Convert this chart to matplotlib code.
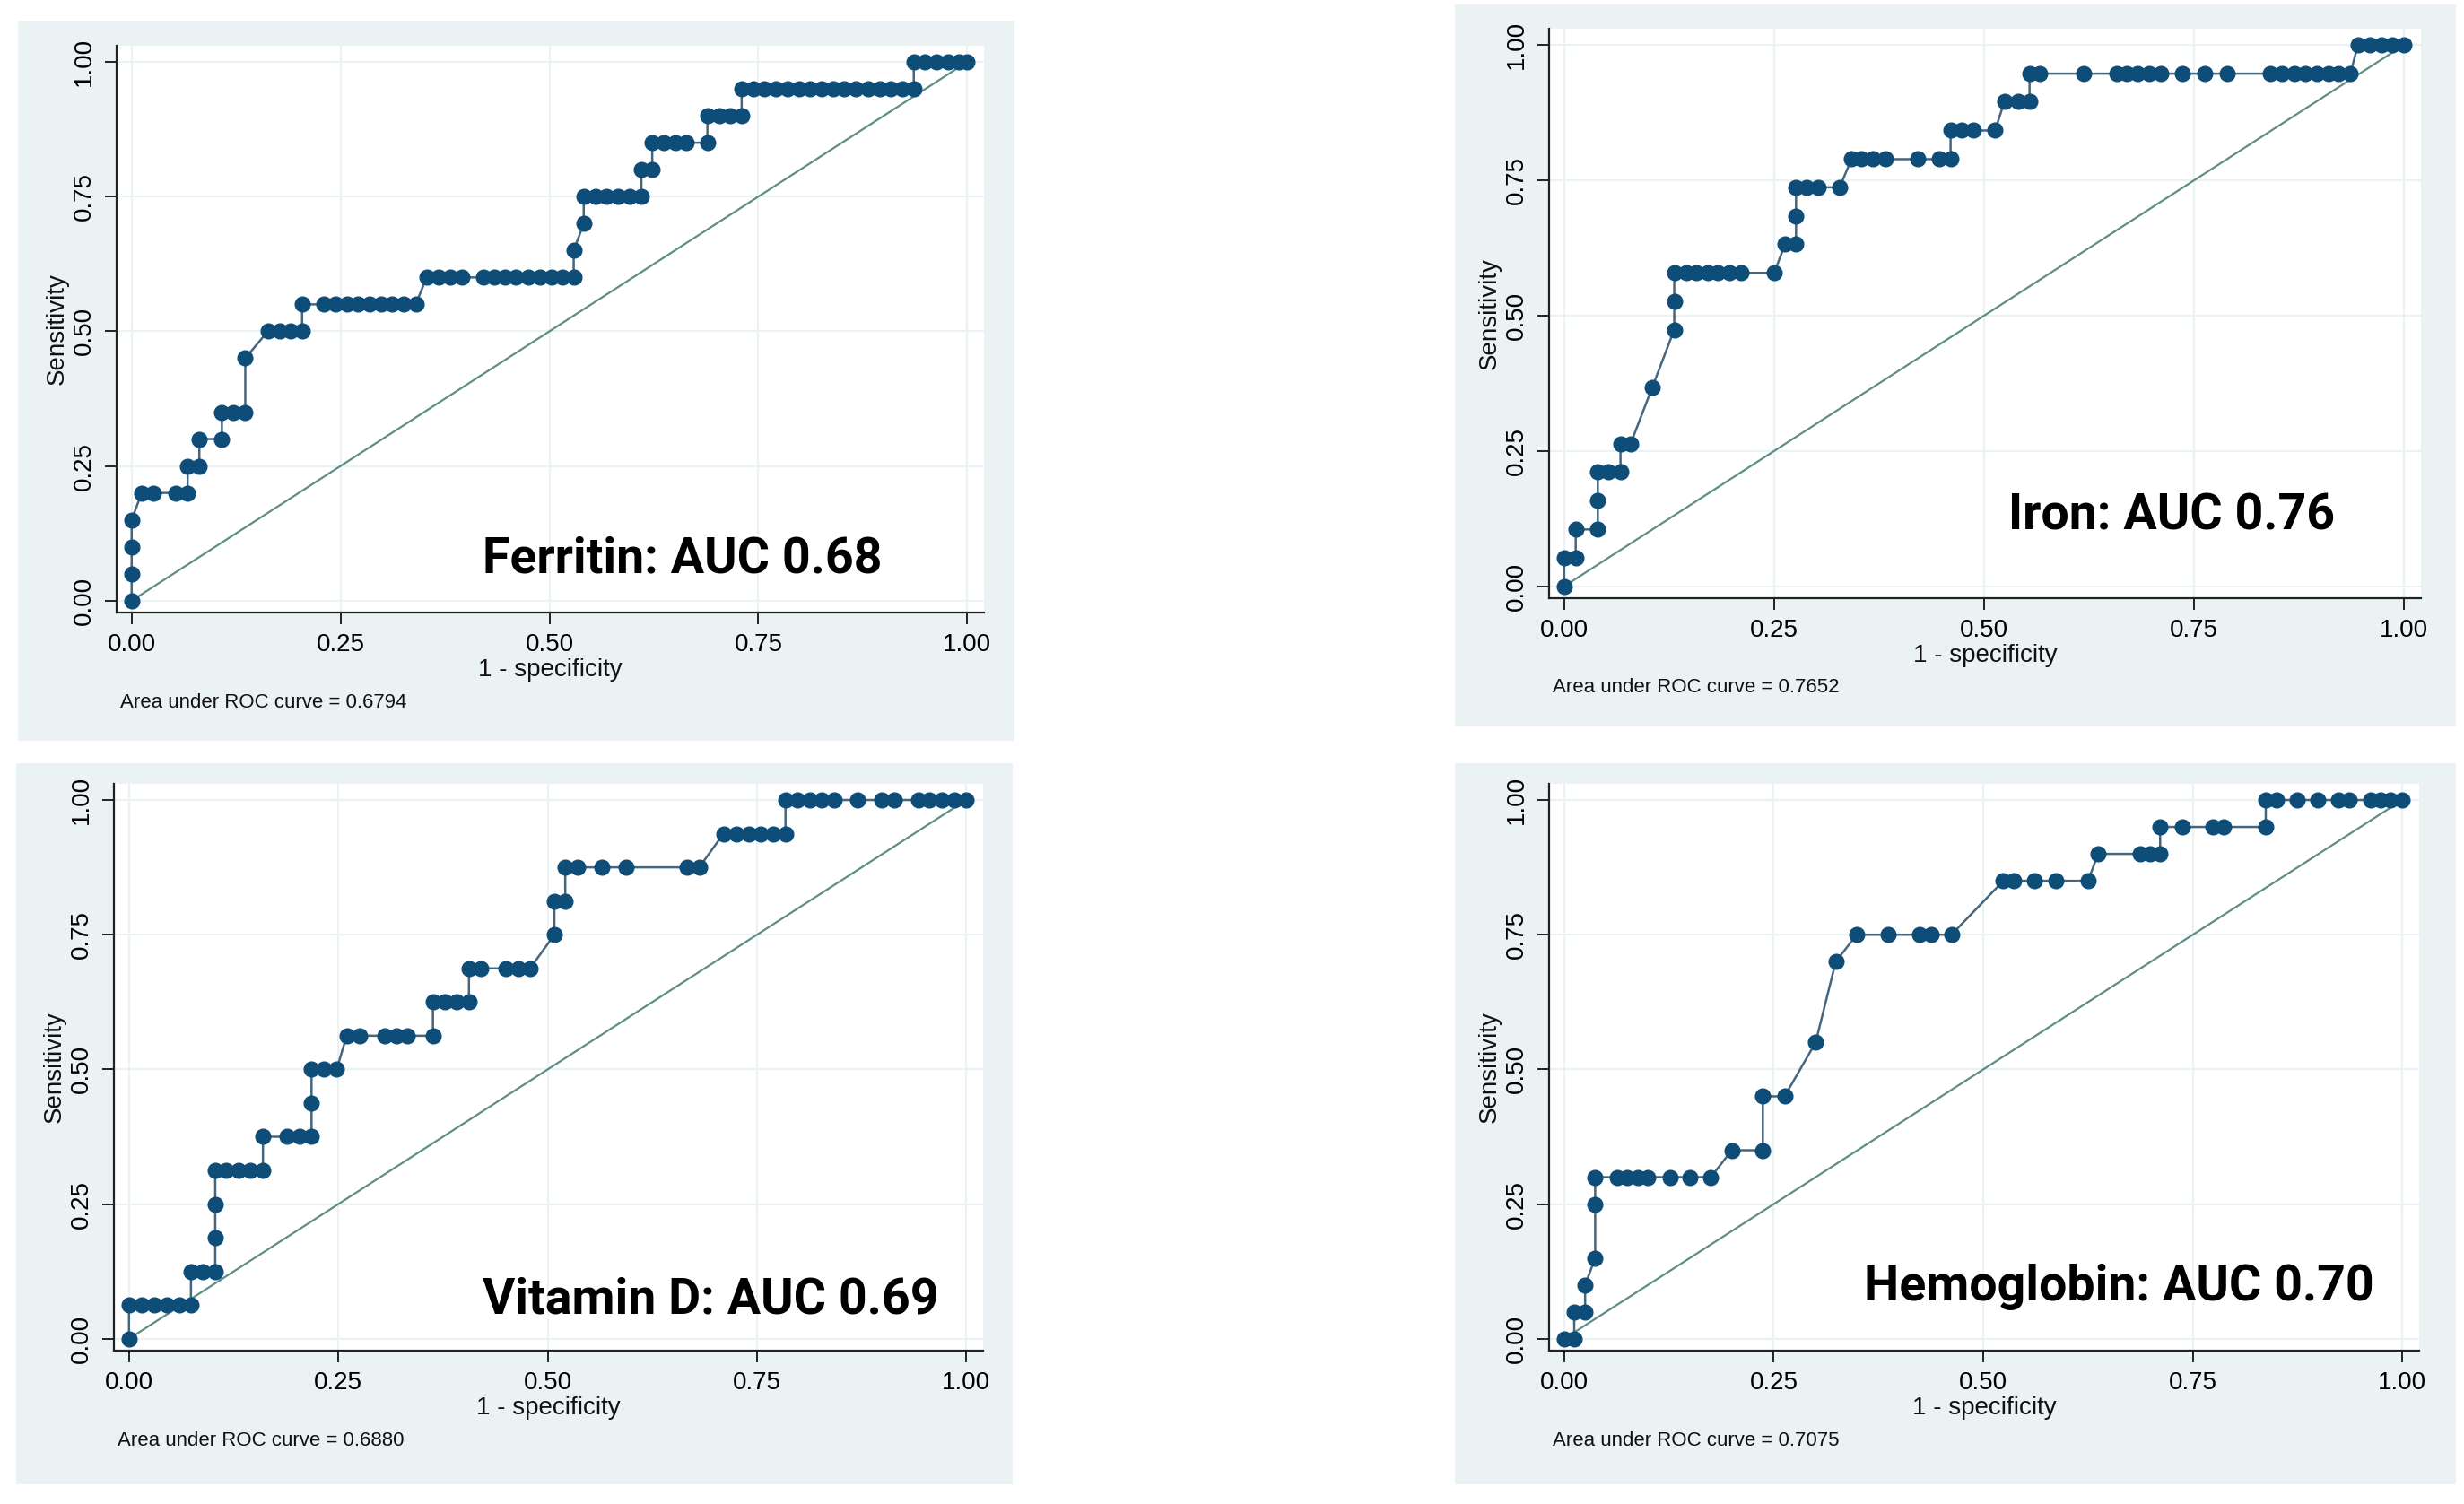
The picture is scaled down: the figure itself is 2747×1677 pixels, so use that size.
import matplotlib
matplotlib.use("Agg")
import matplotlib.pyplot as plt
from matplotlib.patches import Rectangle

W, H = 2747, 1677
DPI = 100

# ---------------- data ----------------
ferritin_fpr = [0, 0, 0, 0,
                0.012, 0.026, 0.053, 0.067,
                0.067, 0.081,
                0.081, 0.108,
                0.108, 0.122, 0.136,
                0.136,
                0.163, 0.177, 0.190, 0.204,
                0.204, 0.230, 0.244, 0.258, 0.271, 0.285, 0.299, 0.312, 0.326, 0.340,
                0.353, 0.367, 0.381, 0.395, 0.421, 0.434, 0.447, 0.460, 0.475, 0.489, 0.503, 0.516, 0.529,
                0.529, 0.541,
                0.541, 0.555, 0.568, 0.582, 0.596, 0.610,
                0.610, 0.623,
                0.623, 0.637, 0.651, 0.664, 0.689,
                0.689, 0.703, 0.716, 0.730,
                0.730, 0.744, 0.757, 0.771, 0.785, 0.799, 0.812, 0.826, 0.840, 0.853, 0.867, 0.881, 0.895, 0.908, 0.922, 0.936,
                0.936, 0.949, 0.963, 0.977, 0.990, 1.0]
ferritin_tpr = [0, 0.05, 0.10, 0.15,
                0.20, 0.20, 0.20, 0.20,
                0.25, 0.25,
                0.30, 0.30,
                0.35, 0.35, 0.35,
                0.45,
                0.50, 0.50, 0.50, 0.50,
                0.55, 0.55, 0.55, 0.55, 0.55, 0.55, 0.55, 0.55, 0.55, 0.55,
                0.60, 0.60, 0.60, 0.60, 0.60, 0.60, 0.60, 0.60, 0.60, 0.60, 0.60, 0.60, 0.60,
                0.65, 0.70,
                0.75, 0.75, 0.75, 0.75, 0.75, 0.75,
                0.80, 0.80,
                0.85, 0.85, 0.85, 0.85, 0.85,
                0.90, 0.90, 0.90, 0.90,
                0.95, 0.95, 0.95, 0.95, 0.95, 0.95, 0.95, 0.95, 0.95, 0.95, 0.95, 0.95, 0.95, 0.95, 0.95, 0.95,
                1.0, 1.0, 1.0, 1.0, 1.0, 1.0]

iron_fpr = [0, 0, 0.0137, 0.0137, 0.040, 0.040, 0.040, 0.053, 0.067, 0.067, 0.079,
            0.105, 0.131, 0.131, 0.131, 0.145, 0.157, 0.171, 0.183, 0.197, 0.211, 0.250,
            0.263, 0.276, 0.276, 0.276, 0.289, 0.302, 0.328,
            0.342, 0.354, 0.368, 0.382, 0.421, 0.447, 0.460,
            0.460, 0.473, 0.487, 0.513,
            0.524, 0.540, 0.554,
            0.554, 0.566, 0.618, 0.658, 0.670, 0.683, 0.696, 0.710, 0.736, 0.763, 0.789,
            0.841, 0.855, 0.869, 0.882, 0.896, 0.910, 0.922, 0.936,
            0.945, 0.959, 0.973, 0.986, 1.0]
iron_tpr = [0, 0.053, 0.053, 0.105, 0.105, 0.158, 0.211, 0.211, 0.211, 0.263, 0.263,
            0.368, 0.474, 0.526, 0.579, 0.579, 0.579, 0.579, 0.579, 0.579, 0.579, 0.579,
            0.632, 0.632, 0.684, 0.737, 0.737, 0.737, 0.737,
            0.789, 0.789, 0.789, 0.789, 0.789, 0.789, 0.789,
            0.842, 0.842, 0.842, 0.842,
            0.895, 0.895, 0.895,
            0.947, 0.947, 0.947, 0.947, 0.947, 0.947, 0.947, 0.947, 0.947, 0.947, 0.947,
            0.947, 0.947, 0.947, 0.947, 0.947, 0.947, 0.947, 0.947,
            1.0, 1.0, 1.0, 1.0, 1.0]

vitd_fpr = [0, 0, 0.015, 0.030, 0.045, 0.060, 0.074, 0.074, 0.088, 0.103,
            0.103, 0.103, 0.103, 0.116, 0.131, 0.145, 0.160,
            0.160, 0.189, 0.204, 0.218, 0.218, 0.218, 0.233, 0.248,
            0.260, 0.275, 0.305, 0.319, 0.332, 0.363,
            0.363, 0.377, 0.391, 0.406,
            0.406, 0.420, 0.450, 0.465, 0.479,
            0.508, 0.508, 0.521,
            0.521, 0.536, 0.565, 0.594, 0.666, 0.681,
            0.710, 0.725, 0.740, 0.754, 0.769, 0.784,
            0.784, 0.798, 0.813, 0.827, 0.842, 0.870, 0.899, 0.914, 0.943, 0.956, 0.971, 0.986, 1.0]
vitd_tpr = [0, 0.0625, 0.0625, 0.0625, 0.0625, 0.0625, 0.0625, 0.125, 0.125, 0.125,
            0.1875, 0.25, 0.3125, 0.3125, 0.3125, 0.3125, 0.3125,
            0.375, 0.375, 0.375, 0.375, 0.4375, 0.5, 0.5, 0.5,
            0.5625, 0.5625, 0.5625, 0.5625, 0.5625, 0.5625,
            0.625, 0.625, 0.625, 0.625,
            0.6875, 0.6875, 0.6875, 0.6875, 0.6875,
            0.75, 0.8125, 0.8125,
            0.875, 0.875, 0.875, 0.875, 0.875, 0.875,
            0.9375, 0.9375, 0.9375, 0.9375, 0.9375, 0.9375,
            1.0, 1.0, 1.0, 1.0, 1.0, 1.0, 1.0, 1.0, 1.0, 1.0, 1.0, 1.0, 1.0]

hemo_fpr = [0, 0.012, 0.012, 0.025, 0.025, 0.037, 0.037, 0.037,
            0.063, 0.075, 0.088, 0.100, 0.126, 0.150, 0.175,
            0.200, 0.237, 0.237, 0.263, 0.300, 0.324,
            0.349, 0.387, 0.424, 0.438, 0.462,
            0.524, 0.536, 0.561, 0.587, 0.625,
            0.637, 0.687, 0.699, 0.711,
            0.711, 0.737, 0.774, 0.787, 0.837,
            0.837, 0.850, 0.874, 0.899, 0.924, 0.936, 0.962, 0.974, 0.986, 1.0]
hemo_tpr = [0, 0, 0.05, 0.05, 0.10, 0.15, 0.25, 0.30,
            0.30, 0.30, 0.30, 0.30, 0.30, 0.30, 0.30,
            0.35, 0.35, 0.45, 0.45, 0.55, 0.70,
            0.75, 0.75, 0.75, 0.75, 0.75,
            0.85, 0.85, 0.85, 0.85, 0.85,
            0.90, 0.90, 0.90, 0.90,
            0.95, 0.95, 0.95, 0.95, 0.95,
            1.0, 1.0, 1.0, 1.0, 1.0, 1.0, 1.0, 1.0, 1.0, 1.0]

titles = ["Ferritin: AUC 0.68", "Iron: AUC 0.76", "Vitamin D: AUC 0.69", "Hemoglobin: AUC 0.70"]
auc_notes = ["Area under ROC curve = 0.6794", "Area under ROC curve = 0.7652",
             "Area under ROC curve = 0.6880", "Area under ROC curve = 0.7075"]
tick_vals = [0, 0.25, 0.5, 0.75, 1.0]
tick_labels = ["0.00", "0.25", "0.50", "0.75", "1.00"]
x_label = "1 - specificity"
y_label = "Sensitivity"

curves = [(ferritin_fpr, ferritin_tpr), (iron_fpr, iron_tpr),
          (vitd_fpr, vitd_tpr), (hemo_fpr, hemo_tpr)]

# ---------------- layout (pixels, top-left origin) ----------------
panels = [
    dict(bg=(20, 23, 1131, 826), ax=(130, 51, 1097, 683), title_xy=(0.420, 0.052)),
    dict(bg=(1622, 5, 2738, 810), ax=(1727, 32, 2699, 667), title_xy=(0.529, 0.105)),
    dict(bg=(18, 851, 1129, 1655), ax=(127, 874, 1096, 1506), title_xy=(0.422, 0.047)),
    dict(bg=(1622, 851, 2738, 1655), ax=(1727, 874, 2697, 1506), title_xy=(0.358, 0.071)),
]

BG = "#EAF2F3"
GRID = "#EAF2F3"
MARK = "#0E4D78"
LINE = "#46667F"
DIAG = "#5E8E84"
SMALL_FONT = ["Liberation Sans", "DejaVu Sans"]
BIG_FONT = ["Roboto", "DejaVu Sans"]

fig = plt.figure(figsize=(W / DPI, H / DPI), dpi=DPI)
fig.patch.set_facecolor("white")


def fx(x):
    return x / W


def fy(y):
    return 1 - y / H


for i, p in enumerate(panels):
    bx0, by0, bx1, by1 = p["bg"]
    fig.patches.append(Rectangle((fx(bx0), fy(by1)), fx(bx1) - fx(bx0), fy(by0) - fy(by1),
                                 transform=fig.transFigure, facecolor=BG, edgecolor="none",
                                 zorder=-10))
    ax0, ay0, ax1, ay1 = p["ax"]
    ax = fig.add_axes([fx(ax0), fy(ay1), fx(ax1) - fx(ax0), fy(ay0) - fy(ay1)])
    ax.set_zorder(1)
    ax.set_facecolor("white")
    ax.set_xlim(-0.018, 1.020)
    ax.set_ylim(-0.022, 1.030)
    for s in ["top", "right"]:
        ax.spines[s].set_visible(False)
    for s in ["left", "bottom"]:
        ax.spines[s].set_color("#222222")
        ax.spines[s].set_linewidth(1.6)
    ax.set_xticks(tick_vals)
    ax.set_xticklabels(tick_labels, fontfamily=SMALL_FONT, fontsize=20)
    ax.set_yticks(tick_vals)
    ax.set_yticklabels(tick_labels, fontfamily=SMALL_FONT, fontsize=20, rotation=90, va="center")
    ax.tick_params(axis="both", direction="out", length=9.5, width=1.4, color="#222222", pad=7)
    ax.grid(True, color=GRID, linewidth=1.6, zorder=0)
    ax.set_axisbelow(True)

    fpr, tpr = curves[i]
    ax.plot([0, 1], [0, 1], color=DIAG, linewidth=1.6, zorder=2)
    ax.plot(fpr, tpr, color=LINE, linewidth=1.8, marker="o", markersize=12,
            markerfacecolor=MARK, markeredgecolor=MARK, zorder=3, clip_on=False)

    tx, ty = p["title_xy"]
    ax.text(tx, ty, titles[i], fontfamily=BIG_FONT, fontweight="bold", fontsize=40,
            ha="left", va="baseline", color="black", zorder=5)

    # axis titles and note
    cx = (ax0 + ax1) / 2
    fig.text(fx(cx), fy(ay1 + 64), x_label, fontfamily=SMALL_FONT, fontsize=20,
             ha="center", va="center", color="#111111")
    fig.text(fx(ax0 - 66), fy((ay0 + ay1) / 2), y_label, fontfamily=SMALL_FONT, fontsize=20,
             ha="center", va="center", rotation=90, color="#111111")
    fig.text(fx(ax0 + 4), fy(ay1 + 100), auc_notes[i], fontfamily=SMALL_FONT, fontsize=16,
             ha="left", va="center", color="#111111")

fig.savefig("out.png", dpi=DPI, facecolor="white")
